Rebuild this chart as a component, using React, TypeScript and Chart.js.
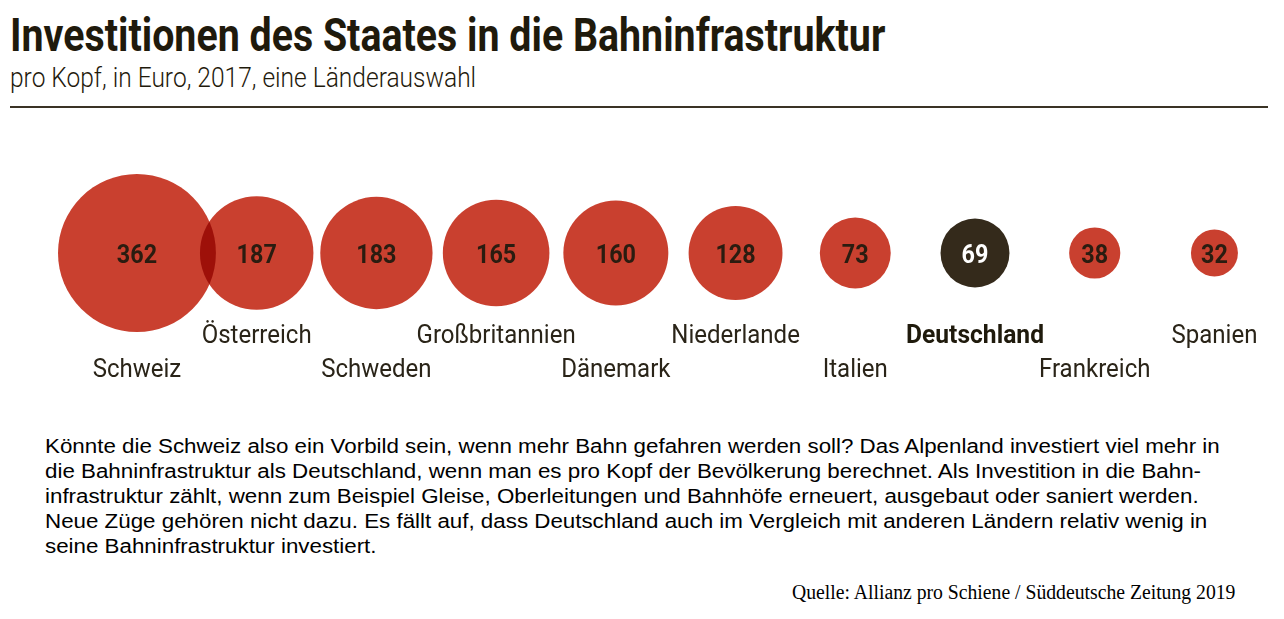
import React, { useEffect, useLayoutEffect, useRef } from "react";
import { Chart, registerables } from "chart.js";

Chart.register(...registerables);

// ---------------- data ----------------
const countries = [
  "Schweiz",
  "Österreich",
  "Schweden",
  "Großbritannien",
  "Dänemark",
  "Niederlande",
  "Italien",
  "Deutschland",
  "Frankreich",
  "Spanien",
];
const values = [362, 187, 183, 165, 160, 128, 73, 69, 38, 32];
const highlighted = ["Deutschland"];

const TITLE = "Investitionen des Staates in die Bahninfrastruktur";
const SUBTITLE = "pro Kopf, in Euro, 2017, eine Länderauswahl";
const BODY_LINES = [
  "Könnte die Schweiz also ein Vorbild sein, wenn mehr Bahn gefahren werden soll? Das Alpenland investiert viel mehr in",
  "die Bahninfrastruktur als Deutschland, wenn man es pro Kopf der Bevölkerung berechnet. Als Investition in die Bahn-",
  "infrastruktur zählt, wenn zum Beispiel Gleise, Oberleitungen und Bahnhöfe erneuert, ausgebaut oder saniert werden.",
  "Neue Züge gehören nicht dazu. Es fällt auf, dass Deutschland auch im Vergleich mit anderen Ländern relativ wenig in",
  "seine Bahninfrastruktur investiert.",
];
const SOURCE = "Quelle: Allianz pro Schiene / Süddeutsche Zeitung 2019";

// ---------------- style ----------------
const RED = "#c9402f";
const DARK = "#342a1b";
const TEXT_DARK = "#1f1a0c";
const LABEL_COLOR = "#2a2418";
const COND_FONT = "Roboto, 'Open Sans', sans-serif";
const RADIUS_K = 4.15;

type FitProps = {
  text: string;
  left: number;
  top: number;
  width: number;
  style: React.CSSProperties;
};

function FitText({ text, left, top, width, style }: FitProps) {
  const ref = useRef<HTMLDivElement>(null);
  useLayoutEffect(() => {
    const el = ref.current;
    if (!el) return;
    const fit = () => {
      el.style.transform = "none";
      const w = el.offsetWidth;
      if (w > 0) el.style.transform = `scaleX(${width / w})`;
    };
    fit();
    if ((document as any).fonts && (document as any).fonts.ready) {
      (document as any).fonts.ready.then(fit);
    }
  }, [text, width]);
  return (
    <div
      ref={ref}
      style={{
        position: "absolute",
        left,
        top,
        display: "inline-block",
        whiteSpace: "pre",
        transformOrigin: "0 0",
        margin: 0,
        ...style,
      }}
    >
      {text}
    </div>
  );
}

function drawCondensed(
  ctx: CanvasRenderingContext2D,
  text: string,
  x: number,
  y: number,
  font: string,
  factor: number,
  color: string
) {
  ctx.save();
  ctx.font = font;
  ctx.fillStyle = color;
  ctx.textAlign = "center";
  ctx.textBaseline = "alphabetic";
  ctx.translate(x, y);
  ctx.scale(factor, 1);
  ctx.fillText(text, 0, 0);
  ctx.restore();
}

const blendPlugin = {
  id: "multiplyBlend",
  beforeDatasetDraw(chart: any) {
    chart.ctx.save();
    chart.ctx.globalCompositeOperation = "multiply";
  },
  afterDatasetDraw(chart: any) {
    chart.ctx.restore();
  },
};

const labelPlugin = {
  id: "bubbleLabels",
  afterDatasetsDraw(chart: any) {
    const ctx: CanvasRenderingContext2D = chart.ctx;
    const meta = chart.getDatasetMeta(0);
    ctx.save();
    ctx.font = `400 26px ${COND_FONT}`;
    const fR = 110 / ctx.measureText("Österreich").width;
    ctx.font = `700 26px ${COND_FONT}`;
    const fB = 138 / ctx.measureText("Deutschland").width;
    ctx.restore();
    meta.data.forEach((el: any, i: number) => {
      const { x, y } = el.getProps(["x", "y"], true);
      const hl = highlighted.includes(countries[i]);
      drawCondensed(
        ctx,
        String(values[i]),
        x,
        y + 9.5,
        `700 26px ${COND_FONT}`,
        fB * 0.95,
        hl ? "#ffffff" : "#2a1c10"
      );
      const labelY = i % 2 === 0 ? y + 124 : y + 90;
      drawCondensed(
        ctx,
        countries[i],
        x,
        labelY,
        `${hl ? 700 : 400} 26px ${COND_FONT}`,
        hl ? fB : fR,
        hl ? TEXT_DARK : LABEL_COLOR
      );
    });
  },
};

function BubbleChart() {
  const canvasRef = useRef<HTMLCanvasElement>(null);
  useEffect(() => {
    const canvas = canvasRef.current;
    if (!canvas) return;
    const data = values.map((v, i) => ({ x: i, y: 0.5, r: RADIUS_K * Math.sqrt(v) }));
    const chart = new Chart(canvas, {
      type: "bubble",
      data: {
        labels: countries,
        datasets: [
          {
            data,
            backgroundColor: countries.map((c) => (highlighted.includes(c) ? DARK : RED)),
            borderWidth: 0,
            clip: false as any,
          },
        ],
      },
      options: {
        animation: false,
        responsive: false,
        devicePixelRatio: 1,
        events: [],
        layout: { padding: 0 },
        plugins: {
          legend: { display: false },
          tooltip: { enabled: false },
          title: { display: false },
        },
        scales: {
          x: { type: "linear", min: -0.4845, max: 8.9215, display: false },
          y: { type: "linear", min: 0, max: 1, display: false },
        },
      },
      plugins: [blendPlugin, labelPlugin],
    });
    return () => chart.destroy();
  }, []);
  return (
    <canvas
      ref={canvasRef}
      width={1284}
      height={300}
      style={{ position: "absolute", left: 0, top: 103, width: 1284, height: 300 }}
    />
  );
}

export default function App() {
  return (
    <div
      style={{
        position: "absolute",
        left: 0,
        top: 0,
        width: 1284,
        height: 619,
        overflow: "hidden",
        background: "#ffffff",
      }}
    >
      <FitText
        text={TITLE}
        left={10}
        top={11.5}
        width={875}
        style={{
          fontFamily: COND_FONT,
          fontWeight: 700,
          fontSize: 46,
          lineHeight: "46px",
          color: TEXT_DARK,
        }}
      />
      <FitText
        text={SUBTITLE}
        left={10}
        top={64.5}
        width={466}
        style={{
          fontFamily: COND_FONT,
          fontWeight: 300,
          fontSize: 27,
          lineHeight: "27px",
          color: TEXT_DARK,
        }}
      />
      <div
        style={{
          position: "absolute",
          left: 10,
          top: 106,
          width: 1258,
          height: 2,
          background: "#3a3325",
        }}
      />
      <BubbleChart />
      <FitText
        text={BODY_LINES.join("\n")}
        left={45}
        top={434}
        width={1175}
        style={{
          fontFamily: "'Liberation Sans', Arial, sans-serif",
          fontWeight: 400,
          fontSize: 20,
          lineHeight: "25px",
          color: "#000000",
        }}
      />
      <FitText
        text={SOURCE}
        left={792}
        top={582}
        width={443}
        style={{
          fontFamily: "'Liberation Serif', 'Times New Roman', serif",
          fontWeight: 400,
          fontSize: 20,
          lineHeight: "20px",
          color: "#000000",
        }}
      />
    </div>
  );
}
